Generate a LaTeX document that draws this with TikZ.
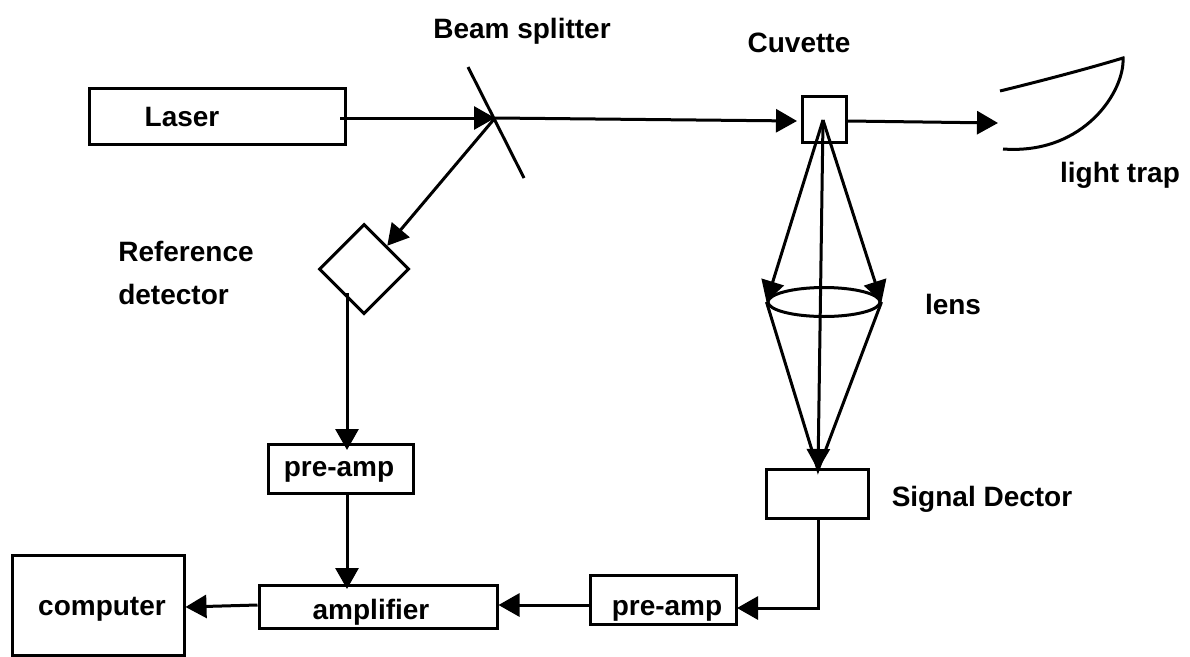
\documentclass[tikz,border=0pt]{standalone}
\usepackage{fontspec}
\setmainfont{Liberation Sans}
\usetikzlibrary{arrows.meta,calc,shapes.geometric}
\tikzset{
  box/.style={draw,line width=3pt,inner sep=0pt},
  lab/.style={font=\bfseries\fontsize{28}{34}\selectfont,inner sep=0pt,align=left},
  beam/.style={line width=3pt,-{Triangle[length=21pt,width=23pt]}},
  wire/.style={line width=3pt}
}
\begin{document}
\begin{tikzpicture}[x=1pt,y=-1pt]
\useasboundingbox (0,0) rectangle (1190,656);
% boxes
\node[box,minimum width=256pt,minimum height=56pt] (laser) at (217,116) {};
\node[lab] at (182,117) {Laser};
\node[box,minimum width=44pt,minimum height=46pt] (cuvette) at (824,119) {};
\node[box,minimum width=145pt,minimum height=49pt] (refamp) at (341,469) {};
\node[lab] at (339,472) {pre-amp};
\node[box,minimum width=102pt,minimum height=49pt] (sigdet) at (817,494) {};
\node[box,minimum width=146pt,minimum height=49pt] (sigamp) at (663,600) {};
\node[lab] at (667,611) {pre-amp};
\node[box,minimum width=238pt,minimum height=43pt] (amp) at (378,607) {};
\node[lab] at (371,612) {amplifier};
\node[box,minimum width=172pt,minimum height=100pt] (comp) at (98,605) {};
\node[lab] at (102,609) {computer};
% reference detector
\node[box,diamond,aspect=1,minimum size=90pt] (refdet) at (364,269) {};
% beam splitter
\coordinate (bsa) at (468,67);
\coordinate (bsb) at (524,178);
\draw[wire] (bsa) -- (bsb);
\coordinate (bsc) at (495,118);
% lens
\node[draw,ellipse,line width=3pt,minimum width=112pt,minimum height=29pt,inner sep=0pt] (lens) at (824,302) {};
% light trap
\draw[wire] (1000,91) .. controls (1045,80) and (1090,68) .. (1123,58) .. controls (1125,90) and (1085,155) .. (1003,149);
% connectors
\coordinate (laserout) at (340,118);
\coordinate (cuvin) at (797,121);
\coordinate (cuvo) at (823,120);
\coordinate (trap) at (998,123);
\coordinate (refout) at (347,293);
\coordinate (sigtop) at (818,470);
\coordinate (sigout) at (818,519);
\coordinate (sigin) at (737,608);
\draw[beam] (laserout) -- (bsc);
\draw[beam] (bsc) -- (cuvin);
\draw[beam] (cuvette.east |- cuvin) -- (trap);
\draw[beam] (bsc) -- (refdet.north east);
\draw[beam] (cuvo) -- (sigtop);
\draw[beam] (cuvo) -- (lens.west);
\draw[beam] (cuvo) -- (lens.east);
\draw[wire] (lens.west) -- (sigtop) -- (lens.east);
\draw[beam] (refout) -- ($(refout |- refamp.north)+(0,7)$);
\draw[beam] (refout |- refamp.south) -- ($(refout |- amp.north)+(0,5)$);
\draw[beam] (sigout) |- (sigin);
\draw[beam] (sigamp.west |- 0,605) -- (amp.east |- 0,605);
\draw[beam] (amp.west |- 0,605) -- (comp.east |- 0,607);
% labels
\node[lab] at (522,31) {Beam splitter};
\node[lab] at (799,43) {Cuvette};
\node[lab] at (1120,175) {light trap};
\node[lab] at (186,273) {Reference\\[9pt]detector};
\node[lab] at (953,304) {lens};
\node[lab] at (982,499) {Signal Dector};
\end{tikzpicture}
\end{document}
